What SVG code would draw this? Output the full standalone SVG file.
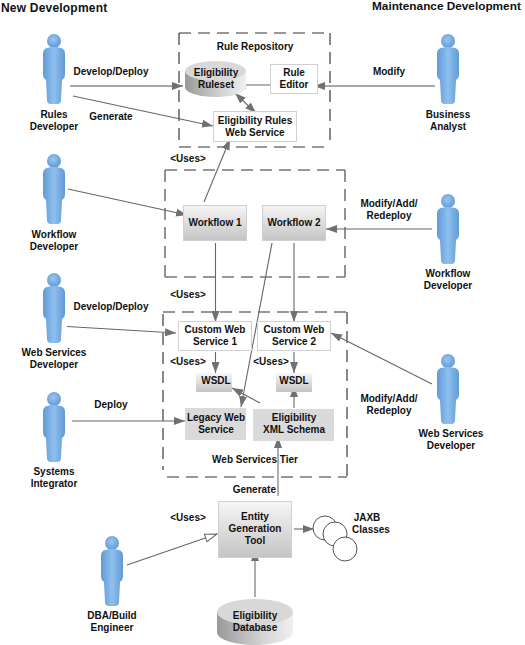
<svg xmlns="http://www.w3.org/2000/svg" width="525" height="645" viewBox="0 0 525 645">
<style>
text{font-family:"Liberation Sans",Arial,sans-serif;font-weight:bold;font-size:10px;fill:#111;text-anchor:middle}
.h{font-size:12px;text-anchor:start}
.l{text-anchor:start}
.dash{fill:none;stroke:#777;stroke-width:1.6;stroke-dasharray:12 7}
.vd{fill:none;stroke:#111;stroke-width:1;stroke-dasharray:12 7}
.c{fill:none;stroke:#666;stroke-width:1.1}
.t{fill:none;stroke:#a6a6a6;stroke-width:1.8}
.plain{fill:#fff;stroke:#d0d0d0;stroke-width:1}
.fade{fill:url(#box);stroke:#d0d0d0;stroke-width:1}
.flat{fill:#dadada}
.circ{fill:#fff;stroke:#555;stroke-width:1}
</style>
<defs>
<linearGradient id="box" x1="0" y1="0" x2="0" y2="1"><stop offset="0" stop-color="#f6f6f6"/><stop offset="1" stop-color="#c4c4c4"/></linearGradient>
<linearGradient id="cyl" x1="0" y1="0" x2="1" y2="0"><stop offset="0" stop-color="#999"/><stop offset=".6" stop-color="#d4d4d4"/><stop offset="1" stop-color="#f0f0f0"/></linearGradient>
<linearGradient id="bodyg" x1="0" y1="0" x2="1" y2="0"><stop offset="0" stop-color="#5f9ad6"/><stop offset=".5" stop-color="#8fbfee"/><stop offset="1" stop-color="#5f9ad6"/></linearGradient>
<radialGradient id="headg" cx=".45" cy=".4" r=".6"><stop offset="0" stop-color="#9cc6ee"/><stop offset="1" stop-color="#5f9ad6"/></radialGradient>
<marker id="a" markerWidth="12" markerHeight="8" refX="11" refY="4" orient="auto" markerUnits="userSpaceOnUse"><path d="M0 0L11 4L0 8Z" fill="#707070"/></marker>
<marker id="s" markerWidth="12" markerHeight="8" refX="1" refY="4" orient="auto" markerUnits="userSpaceOnUse"><path d="M12 0L1 4L12 8Z" fill="#707070"/></marker>
<marker id="o" markerWidth="14" markerHeight="10" refX="13" refY="5" orient="auto" markerUnits="userSpaceOnUse"><path d="M1 1L13 5L1 9Z" fill="#fff" stroke="#666"/></marker>
<g id="person">
<circle cx="0" cy="7" r="7" fill="url(#headg)"/>
<path d="M-7 14Q-11 15 -11 20L-11 41Q-11 44 -8 46L-7 66Q-7 70 -3 70L3 70Q7 70 7 66L8 46Q11 44 11 41L11 20Q11 15 7 14Q0 12 -7 14Z" fill="url(#bodyg)"/>
</g>
</defs>

<g id="headers">
<text class="h" x="1" y="12" style="letter-spacing:.2px">New Development</text>
<text class="h" x="372" y="10" style="font-size:11.8px">Maintenance Development</text>
</g>

<g id="boundaries">
<path class="dash" d="M179 33H330M179 147H330"/>
<path class="vd" d="M179 33V147M330 33V147"/>
<path class="dash" d="M165 170H345M165 277H345M165 170V277M345 170V277"/>
<path class="dash" d="M163 312H347M167 477H347"/>
<path class="vd" d="M163 314V470M347 312V477"/>
</g>

<g id="connectors">
<path class="t" d="M70 86H183" marker-end="url(#a)"/>
<path class="c" d="M73 96L213 126" marker-end="url(#a)"/>
<path class="c" d="M204 202L230 139" marker-end="url(#a)"/>
<path class="c" d="M270 85H235" marker-end="url(#a)"/>
<path class="c" d="M235 93L256 113" marker-start="url(#s)" marker-end="url(#a)"/>
<path class="t" d="M435 86H314" marker-end="url(#a)"/>
<path class="c" d="M68 189L187 215" marker-end="url(#a)"/>
<path class="c" d="M432 229H326" marker-end="url(#a)"/>
<path class="c" d="M215.500 243V322" marker-end="url(#a)"/>
<path class="c" d="M294 243V322" marker-end="url(#a)"/>
<path class="c" d="M272 243L241 407" marker-end="url(#a)"/>
<path class="c" d="M67 326.500L176 333" marker-end="url(#a)"/>
<path class="c" d="M432 384L331 333" marker-end="url(#a)"/>
<path class="c" d="M215.500 352V373" marker-end="url(#a)"/>
<path class="c" d="M294 352V373" marker-end="url(#a)"/>
<path class="c" d="M260 403L232 388" marker-end="url(#a)"/>
<path class="t" d="M294 408V386" marker-end="url(#a)"/>
<path class="c" d="M72 421H185" marker-end="url(#a)"/>
<path class="t" d="M278 496V437" marker-end="url(#a)"/>
<path class="c" d="M127 565L217 534" marker-end="url(#o)"/>
<path class="c" d="M294 529H314" marker-end="url(#a)"/>
<path class="t" d="M255 597V550" marker-end="url(#a)"/>
</g>

<g id="rule-repository"><text x="255" y="50">Rule Repository</text></g>
<g id="eligibility-ruleset">
<path d="M185 71V87C185 93 200 97 215.500 97S246 93 246 87V71Z" fill="url(#cyl)"/>
<ellipse cx="215.500" cy="71" rx="30.500" ry="10" fill="#d8d8d8"/>
<text x="216" y="76">Eligibility</text><text x="216" y="88">Ruleset</text>
</g>
<g id="rule-editor"><rect class="plain" x="270.500" y="64.500" width="47" height="29"/><text x="294" y="76">Rule</text><text x="294" y="88">Editor</text></g>
<g id="rules-ws"><rect class="plain" x="213.500" y="111.500" width="83" height="30"/><text x="255" y="124">Eligibility Rules</text><text x="255" y="136">Web Service</text></g>
<g id="workflow-1"><rect class="fade" x="183.500" y="205.500" width="63" height="35"/><text x="215" y="226">Workflow 1</text></g>
<g id="workflow-2"><rect class="fade" x="262.500" y="205.500" width="63" height="35"/><text x="294" y="226">Workflow 2</text></g>
<g id="custom-ws-1"><rect class="plain" x="178.500" y="321.500" width="73" height="29"/><text x="215" y="333">Custom Web</text><text x="215" y="345">Service 1</text></g>
<g id="custom-ws-2"><rect class="plain" x="257.500" y="321.500" width="73" height="29"/><text x="294" y="333">Custom Web</text><text x="294" y="345">Service 2</text></g>
<g id="wsdl-1"><rect x="196" y="373" width="36" height="19" fill="url(#box)"/><text x="216" y="384">WSDL</text></g>
<g id="wsdl-2"><rect x="276" y="373" width="36" height="19" fill="url(#box)"/><text x="294" y="384">WSDL</text></g>
<g id="legacy-ws"><rect class="flat" x="185" y="408" width="61" height="32"/><text x="216" y="421">Legacy Web</text><text x="216" y="433">Service</text></g>
<g id="xml-schema"><rect class="flat" x="253" y="409" width="81" height="32"/><text x="294" y="421">Eligibility</text><text x="294" y="433">XML Schema</text></g>
<g id="ws-tier"><text x="255" y="463">Web Services Tier</text></g>
<g id="entity-tool"><rect class="fade" x="218.500" y="501.500" width="73" height="56"/><text x="255" y="520">Entity</text><text x="255" y="532">Generation</text><text x="255" y="544">Tool</text></g>
<g id="jaxb">
<circle class="circ" cx="325" cy="528" r="12"/><circle class="circ" cx="335" cy="534" r="12"/><circle class="circ" cx="345" cy="549" r="12"/>
<text x="367" y="521">JAXB</text><text x="371" y="533">Classes</text>
</g>
<g id="eligibility-db">
<path d="M217 612V632C217 640 236 645 255 645S293 640 293 632V612Z" fill="url(#cyl)"/>
<ellipse cx="255" cy="612" rx="38" ry="13" fill="#d8d8d8"/>
<text x="255" y="619">Eligibility</text><text x="255" y="631">Database</text>
</g>

<g id="labels">
<text x="111" y="75">Develop/Deploy</text>
<text x="111" y="120">Generate</text>
<text x="188" y="162">&lt;Uses&gt;</text>
<text x="389" y="207">Modify/Add/</text><text x="389" y="219">Redeploy</text>
<text x="188" y="298">&lt;Uses&gt;</text>
<text x="111" y="310">Develop/Deploy</text>
<text x="188" y="365">&lt;Uses&gt;</text>
<text x="271" y="365">&lt;Uses&gt;</text>
<text x="111" y="408">Deploy</text>
<text x="389" y="75">Modify</text>
<text x="389" y="402">Modify/Add/</text><text x="389" y="414">Redeploy</text>
<text x="276" y="493" style="text-anchor:end">Generate</text>
<text x="188" y="521">&lt;Uses&gt;</text>
</g>

<g id="rules-developer"><use href="#person" x="54" y="34"/><text x="54" y="118">Rules</text><text x="54" y="130">Developer</text></g>
<g id="workflow-developer-l"><use href="#person" x="54" y="154"/><text x="54" y="238">Workflow</text><text x="54" y="250">Developer</text></g>
<g id="ws-developer-l"><use href="#person" x="54" y="273"/><text x="54" y="356">Web Services</text><text x="54" y="368">Developer</text></g>
<g id="systems-integrator"><use href="#person" x="54" y="392"/><text x="54" y="475">Systems</text><text x="54" y="487">Integrator</text></g>
<g id="dba"><use href="#person" x="112" y="536"/><text x="112" y="619">DBA/Build</text><text x="112" y="631">Engineer</text></g>
<g id="business-analyst"><use href="#person" x="448" y="34"/><text x="448" y="118">Business</text><text x="448" y="130">Analyst</text></g>
<g id="workflow-developer-r"><use href="#person" x="448" y="194"/><text x="448" y="277">Workflow</text><text x="448" y="289">Developer</text></g>
<g id="ws-developer-r"><use href="#person" x="448" y="354"/><text x="451" y="437">Web Services</text><text x="451" y="449">Developer</text></g>
</svg>
